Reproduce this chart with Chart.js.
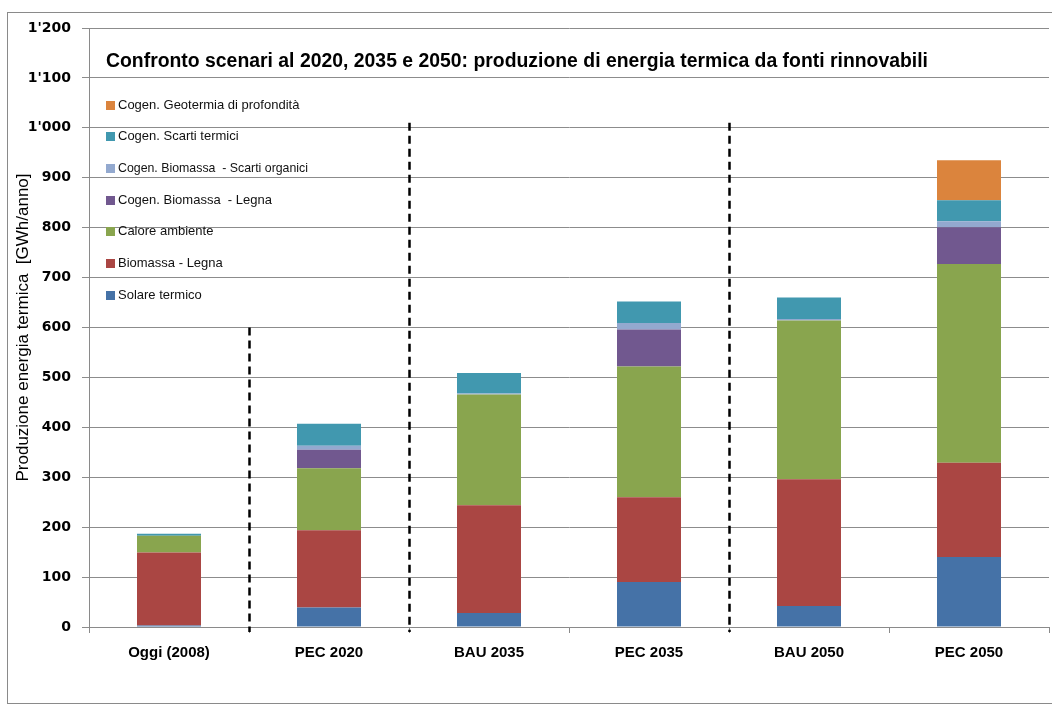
<!DOCTYPE html>
<html>
<head>
<meta charset="utf-8">
<script src="https://cdn.jsdelivr.net/npm/chart.js@4/dist/chart.umd.min.js"></script>
<style>
  html, body { margin: 0; padding: 0; background: #fff; }
  #wrap { width: 1052px; height: 709px; position: relative; }
</style>
</head>
<body>
<div id="wrap"><canvas id="chart" width="1052" height="709"></canvas></div>
<script>
// Scenari (asse x)
const scenari = ["Oggi (2008)", "PEC 2020", "BAU 2035", "PEC 2035", "BAU 2050", "PEC 2050"];

// GWh/anno per fonte, dal basso verso l'alto
const solareTermico = [3, 39, 28, 90, 42, 140];
const biomassaLegna = [146, 155, 216, 170, 254, 189];
const caloreAmbiente = [34, 124, 222, 262, 318, 398];
const cogenBiomassaLegna = [0, 37, 0, 74, 0, 74];
const cogenScartiOrganici = [0, 8, 2, 13, 3, 12];
const cogenScartiTermici = [4, 44, 41, 43, 43, 42];
const cogenGeotermia = [0, 0, 0, 0, 0, 80];

// Separatori tratteggiati: dopo quale scenario e fino a quale valore salgono
const separatoreDopo = [0, 1, 3];
const separatoreFino = [600, 1010, 1010];

const titolo = "Confronto scenari al 2020, 2035 e 2050: produzione di energia termica da fonti rinnovabili";

const FONT = "'Liberation Sans', Arial, sans-serif";

// Title, legend inside the plot, dashed dividers and outer frame
const decorations = {
  id: "decorations",
  beforeDraw(chart) {
    const ctx = chart.ctx;
    ctx.save();
    ctx.fillStyle = "#fff";
    ctx.fillRect(0, 0, chart.width, chart.height);
    ctx.strokeStyle = "#8a8a8a";
    ctx.lineWidth = 1;
    ctx.strokeRect(7.5, 12.5, chart.width, chart.height - 18);
    ctx.restore();
  },
  afterDatasetsDraw(chart) {
    const ctx = chart.ctx;
    const x = chart.scales.x;
    const y = chart.scales.y;
    const area = chart.chartArea;

    // dashed dividers between scenario groups
    ctx.save();
    ctx.strokeStyle = "#000";
    ctx.lineWidth = 2.5;
    ctx.setLineDash([8, 5]);
    separatoreDopo.forEach((i, k) => {
      const px = Math.round((x.getPixelForValue(i) + x.getPixelForValue(i + 1)) / 2) + 0.5;
      ctx.beginPath();
      ctx.moveTo(px, y.getPixelForValue(separatoreFino[k]));
      ctx.lineTo(px, area.bottom + 5);
      ctx.stroke();
    });
    ctx.restore();

    // title
    ctx.save();
    ctx.fillStyle = "#000";
    ctx.font = "bold 19.5px " + FONT;
    ctx.textBaseline = "middle";
    ctx.textAlign = "left";
    ctx.fillText(titolo, 106, 62, 822);
    ctx.restore();

    // legend (reverse order, top = last dataset)
    ctx.save();
    ctx.font = "13px " + FONT;
    ctx.textBaseline = "middle";
    const ds = chart.data.datasets.slice().reverse();
    ds.forEach((d, i) => {
      const cy = 105 + i * 31.7;
      ctx.fillStyle = d.backgroundColor;
      ctx.fillRect(106, Math.round(cy - 4.5), 9, 9);
      ctx.fillStyle = "#111";
      ctx.fillText(d.label, 118, cy, 190);
    });
    ctx.restore();
  }
};

const datasets = [
  { label: "Solare termico", data: solareTermico, backgroundColor: "#4572A7" },
  { label: "Biomassa - Legna", data: biomassaLegna, backgroundColor: "#AA4643" },
  { label: "Calore ambiente", data: caloreAmbiente, backgroundColor: "#89A54E" },
  { label: "Cogen. Biomassa  - Legna", data: cogenBiomassaLegna, backgroundColor: "#71588F" },
  { label: "Cogen. Biomassa  - Scarti organici", data: cogenScartiOrganici, backgroundColor: "#93A9CF" },
  { label: "Cogen. Scarti termici", data: cogenScartiTermici, backgroundColor: "#4198AF" },
  { label: "Cogen. Geotermia di profondità", data: cogenGeotermia, backgroundColor: "#DB843D" },
].map((d) => Object.assign(d, { categoryPercentage: 1, barPercentage: 0.4, borderWidth: 0 }));

new Chart(document.getElementById("chart"), {
  type: "bar",
  data: { labels: scenari, datasets },
  options: {
    responsive: false,
    animation: false,
    layout: { padding: { left: 0, top: 28, right: 3, bottom: 0 } },
    plugins: {
      legend: { display: false },
      tooltip: { enabled: false },
    },
    scales: {
      x: {
        stacked: true,
        afterFit: (s) => { s.height = 82; },
        grid: { display: true, drawOnChartArea: false, drawTicks: true, tickLength: 6, color: "#8a8a8a", offset: true },
        border: { display: true, color: "#8a8a8a" },
        ticks: { color: "#000", font: { family: FONT, size: 15, weight: "bold" }, padding: 11 },
      },
      y: {
        stacked: true,
        min: 0,
        max: 1200,
        afterFit: (s) => { s.width = 89; },
        grid: { color: "#8c8c8c", tickLength: 7 },
        border: { display: true, color: "#8a8a8a" },
        ticks: {
          stepSize: 100,
          color: "#000",
          padding: 11,
          font: { family: "'DejaVu Sans', Verdana, sans-serif", size: 14, weight: "bold" },
          callback: (v) => (v >= 1000 ? Math.floor(v / 1000) + "'" + String(v % 1000).padStart(3, "0") : String(v)),
        },
        title: {
          display: true,
          text: "Produzione energia termica  [GWh/anno]",
          color: "#000",
          font: { family: FONT, size: 17 },
          padding: { top: 13, bottom: 0 },
        },
      },
    },
  },
  plugins: [decorations],
});
</script>
</body>
</html>
